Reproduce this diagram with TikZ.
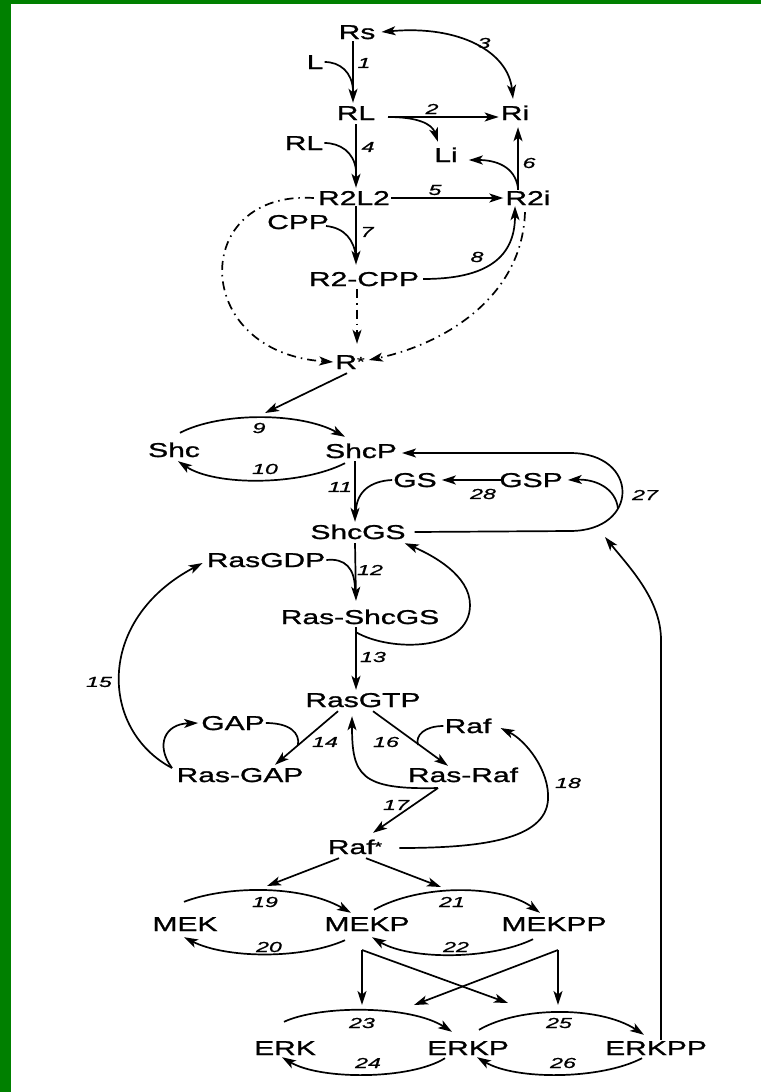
\documentclass[tikz,border=0pt]{standalone}
\usepackage{fontspec}
\newfontfamily\spfont[FakeStretch=1.5,FakeBold=1.2]{Liberation Sans}
\newfontfamily\nmfont[FakeStretch=1.6,FakeBold=0.8]{Liberation Sans}
\usetikzlibrary{arrows.meta,calc}
\definecolor{frame}{RGB}{0,128,0}
\newcommand{\upstar}{\raisebox{3pt}{\fontsize{13}{13}\selectfont *}}
\begin{document}
\begin{tikzpicture}[x=1pt,y=-1pt,
  sp/.style={font=\spfont\fontsize{20}{22}\selectfont, text height=14pt, text depth=0pt, inner sep=1pt},
  num/.style={font=\nmfont\itshape\fontsize{14.5}{16}\selectfont, inner sep=0pt},
  ln/.style={line width=1.7pt},
  tip/.tip={Stealth[length=14pt,width=9pt,inset=3.5pt]},
  rx/.style={ln, -tip},
  rxx/.style={ln, tip-tip},
  dd/.style={rx, dash pattern=on 9pt off 5pt on 1.5pt off 5pt}]

% page and green frame
\useasboundingbox (0,0) rectangle (761,1092);
\fill[white] (0,0) rectangle (761,1092);
\fill[frame] (0,0) rectangle (11,1092);
\fill[frame] (0,0) rectangle (761,4);

% species
\node[sp] (Rs)      at (357,32)  {Rs};
\node[sp] (L)       at (315,62)  {L};
\node[sp] (RL)      at (356,113) {RL};
\node[sp] (Ri)      at (515,113) {Ri};
\node[sp] (Li)      at (446,155) {Li};
\node[sp] (RLb)     at (304,143) {RL};
\node[sp] (R2L2)    at (354,198) {R2L2};
\node[sp] (R2i)     at (528,198) {R2i};
\node[sp] (CPP)     at (298,222) {CPP};
\node[sp] (R2CPP)   at (364,279) {R2-CPP};
\node[sp] (Rstar)   at (350,362) {R\upstar};
\node[sp] (Shc)     at (174,450) {Shc};
\node[sp] (ShcP)    at (361,451) {ShcP};
\node[sp] (GS)      at (415,480) {GS};
\node[sp] (GSP)     at (531,480) {GSP};
\node[sp] (ShcGS)   at (358,532) {ShcGS};
\node[sp] (RasGDP)  at (266,560) {RasGDP};
\node[sp] (RasShcGS) at (360,617) {Ras-ShcGS};
\node[sp] (RasGTP)  at (363,700) {RasGTP};
\node[sp] (GAP)     at (233,723) {GAP};
\node[sp] (Raf)     at (468,726) {Raf};
\node[sp] (RasGAP)  at (240,775) {Ras-GAP};
\node[sp] (RasRaf)  at (463,775) {Ras-Raf};
\node[sp] (Rafs)    at (355,847) {Raf\upstar};
\node[sp] (MEK)     at (185,924) {MEK};
\node[sp] (MEKP)    at (367,924) {MEKP};
\node[sp] (MEKPP)   at (554,924) {MEKPP};
\node[sp] (ERK)     at (285,1048) {ERK};
\node[sp] (ERKP)    at (468,1048) {ERKP};
\node[sp] (ERKPP)   at (656,1048) {ERKPP};

% reaction numbers
\foreach \n/\x/\y in {1/364/63, 2/432/109, 3/484/43, 4/368/147, 5/435/190,
  6/529/163, 7/367/232, 8/477/257, 9/259/428, 10/265/469, 11/340/487,
  12/370/570, 13/373/657, 14/325/742, 15/99/682, 16/386/742, 17/396/805,
  18/568/783, 19/265/902, 20/269/947, 21/452/902, 22/456/947, 23/362/1023,
  24/368/1063, 25/559/1023, 26/563/1063, 27/645/495, 28/483/494}
  \node[num] (l\n) at (\x,\y) {\n};

% free ends and branch points
\coordinate (b2)  at (388,117);
\coordinate (b6)  at (518,188);
\coordinate (b27) at (618,509);
\coordinate (t27) at (605,537);
\coordinate (tR)  at (265,413);
\coordinate (g0)  at (172,768);
\coordinate (r0)  at (438,788);
\coordinate (tA)  at (267,886);
\coordinate (tB)  at (441,887);
\coordinate (m1)  at (362,950);
\coordinate (m2)  at (558,950);

% receptor block
\draw[rx] ($(Rs.south)+(-4,1)$) -- ($(RL.north)+(-3,-2)$);
\draw[ln] (L.east) .. controls (340,62) and (352,72) .. (353,90);
\draw[rx] (b2) -- ($(Ri.west)+(-1,4)$);
\draw[rx] (b2) .. controls (418,117) and (432,124) .. ($(Li.north)+(-8,-5)$);
\draw[rxx] ($(Rs.east)+(5,0)$) .. controls (460,25) and (508,52) .. ($(Ri.north)+(-2,-6)$);
\draw[rx] ($(RL.south)+(0,3)$) -- ($(R2L2.north)+(2,-2)$);
\draw[ln] (RLb.east) .. controls (340,143) and (354,152) .. (356,170);
\draw[rx] (R2L2.east) -- ($(R2i.west)+(-1,0)$);
\draw[rx] ($(R2i.north)+(-10,0)$) -- ($(Ri.south)+(3,6)$);
\draw[rx] (b6) .. controls (515,166) and (495,160) .. ($(Li.east)+(10,5)$);
\draw[rx] ($(R2L2.south)+(2,0)$) -- ($(R2CPP.north)+(-8,-6)$);
\draw[ln] ($(CPP.east)+(-4,4)$) .. controls (345,228) and (354,240) .. (356,257);
\draw[rx] ($(R2CPP.east)+(3,0)$) .. controls (480,279) and (515,262) .. ($(R2i.south)+(-13,0)$);
\draw[dd] ($(R2L2.west)+(-3,0)$) .. controls (190,190) and (190,352) .. ($(Rstar.west)+(-1,0)$);
\draw[dd] ($(R2i.south)+(-3,6)$) .. controls (522,300) and (440,345) .. ($(Rstar.east)+(3,-2)$);
\draw[dd] ($(R2CPP.south)+(-7,2)$) -- ($(Rstar.north)+(7,-10)$);
\draw[rx] ($(Rstar.south)+(-3,3)$) -- (tR);

% Shc / GS block
\draw[rx] ($(Shc.north)+(6,-9)$) .. controls (220,412) and (300,412) .. ($(ShcP.north)+(-16,-6)$);
\draw[rx] ($(ShcP.south)+(-16,4)$) .. controls (300,486) and (215,486) .. ($(Shc.south)+(4,3)$);
\draw[rx] ($(ShcP.south)+(-6,2)$) -- ($(ShcGS.north)+(-3,-2)$);
\draw[ln] (GS.west) .. controls (370,481) and (357,492) .. (356,510);
\draw[rx] ($(GSP.west)+(3,0)$) -- ($(GS.east)+(4,0)$);
\draw[rx] ($(ShcGS.east)+(8,0)$) -- (570,531) .. controls (640,531) and (640,453) .. (570,453) -- ($(ShcP.east)+(4,2)$);
\draw[rx] (b27) .. controls (616,488) and (595,479) .. ($(GSP.east)+(4,0)$);
\draw[rx] ($(ERKPP.north)+(5,0)$) -- (661,640) .. controls (661,600) and (630,568) .. (t27);

% Ras block
\draw[rx] ($(ShcGS.south)+(-3,3)$) -- ($(RasShcGS.north)+(-4,-8)$);
\draw[ln] (RasGDP.east) .. controls (345,558) and (355,568) .. (355,590);
\draw[rx] ($(RasShcGS.south)+(-4,7)$) .. controls (390,652) and (470,652) .. (470,605)
          .. controls (470,575) and (432,555) .. ($(ShcGS.south east)+(-2,3)$);
\draw[rx] ($(RasShcGS.south)+(-4,2)$) -- ($(RasGTP.north)+(-7,-2)$);
\draw[rx] ($(RasGTP.south)+(-25,3)$) -- ($(RasGAP.north)+(35,-2)$);
\draw[ln] (GAP.east) .. controls (290,723) and (300,733) .. (298,745);
\draw[rx] (g0) .. controls (100,730) and (95,620) .. ($(RasGDP.west)+(-3,3)$);
\draw[rx] (g0) .. controls (155,745) and (165,724) .. ($(GAP.west)+(-2,0)$);
\draw[rx] ($(RasGTP.south)+(10,3)$) -- ($(RasRaf.north)+(-15,-1)$);
\draw[ln] (Raf.west) .. controls (425,726) and (415,735) .. (418,745);
\draw[rx] (r0) .. controls (360,790) and (352,775) .. ($(RasGTP.south)+(-11,8)$);
\draw[rx] (r0) -- ($(Rafs.north)+(18,-6)$);
\draw[rx] ($(Rafs.east)+(16,1)$) .. controls (480,848) and (545,840) .. (548,800)
          .. controls (550,770) and (525,740) .. ($(Raf.east)+(8,2)$);

% MAPK cascade
\draw[rx] ($(Rafs.south)+(-16,3)$) -- (tA);
\draw[rx] ($(Rafs.south)+(11,3)$) -- (tB);
\draw[rx] ($(MEK.north)+(-1,-14)$) .. controls (225,886) and (300,884) .. ($(MEKP.north)+(-16,-3)$);
\draw[rx] ($(MEKP.south)+(-22,8)$) .. controls (300,960) and (225,958) .. ($(MEK.south)+(-1,5)$);
\draw[rx] ($(MEKP.north)+(7,-6)$) .. controls (420,884) and (500,884) .. ($(MEKPP.north)+(-14,-3)$);
\draw[rx] ($(MEKPP.south)+(-21,7)$) .. controls (490,960) and (410,960) .. ($(MEKP.south)+(5,5)$);
\draw[rx] (m1) -- (362,1005);
\draw[rx] (m1) -- (508,1003);
\draw[rx] (m2) -- (558,1005);
\draw[rx] (m2) -- (414,1005);
\draw[rx] ($(ERK.north)+(-1,-18)$) .. controls (320,1005) and (410,1005) .. ($(ERKP.north)+(-16,-8)$);
\draw[rx] ($(ERKP.south)+(-23,2)$) .. controls (410,1080) and (320,1080) .. ($(ERK.south)+(-3,1)$);
\draw[rx] ($(ERKP.north)+(11,-10)$) .. controls (520,1006) and (600,1006) .. ($(ERKPP.north)+(-12,-5)$);
\draw[rx] ($(ERKPP.south)+(-14,2)$) .. controls (600,1080) and (515,1080) .. ($(ERKP.south)+(9,1)$);
\end{tikzpicture}
\end{document}
